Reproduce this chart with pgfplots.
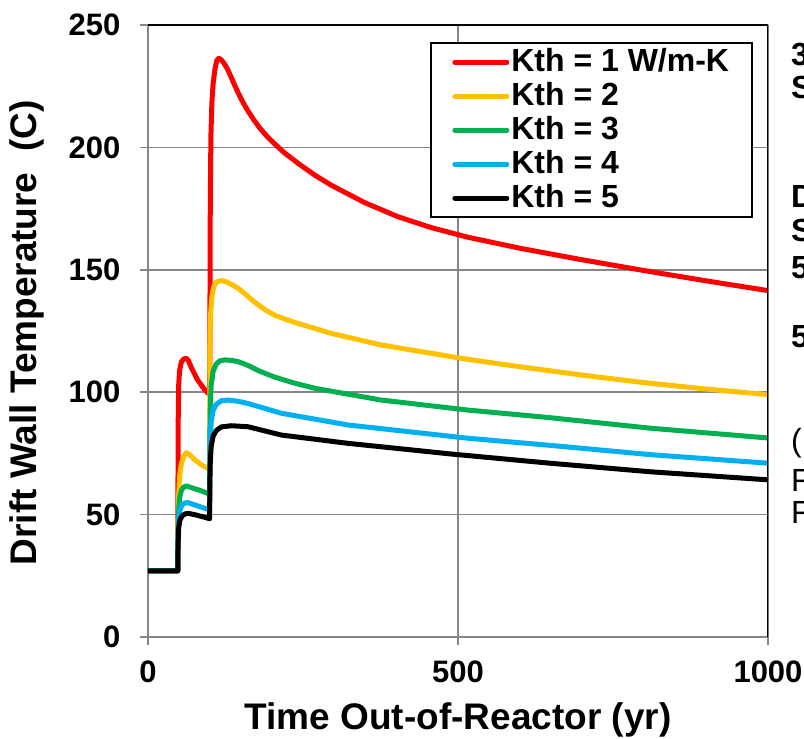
\documentclass[border=0pt]{standalone}
\usepackage{fontspec}
\setmainfont{Liberation Sans}
\usepackage{pgfplots}
\pgfplotsset{compat=1.18}

\definecolor{kred}{RGB}{255,0,0}
\definecolor{korange}{RGB}{255,192,0}
\definecolor{kgreen}{RGB}{0,176,80}
\definecolor{kblue}{RGB}{0,176,240}
\definecolor{gridgray}{RGB}{134,134,134}

\begin{document}
\begin{tikzpicture}
\useasboundingbox (-148pt,-102pt) rectangle (656pt,637pt);
\begin{axis}[
    at={(0pt,0pt)}, anchor=south west,
    scale only axis,
    width=620pt, height=612pt,
    xmin=0, xmax=1000, ymin=0, ymax=250,
    xtick={0,500,1000},
    ytick={0,50,100,150,200,250},
    axis x line*=bottom, axis y line*=left,
    axis line style={gridgray, line width=2.5pt},
    grid=major,
    major grid style={gridgray, line width=1.6pt},
    tick style={gridgray, line width=1.6pt},
    tick align=outside,
    major tick length=8pt,
    /pgf/number format/assume math mode=true,
    /pgf/number format/1000 sep={},
    ticklabel style={font=\bfseries\fontsize{31}{31}\selectfont},
    yticklabel style={xshift=-16pt},
    xticklabel style={yshift=-12pt},
    xlabel={Time Out-of-Reactor (yr)},
    ylabel={Drift Wall Temperature\ \ (C)},
    label style={font=\bfseries\fontsize{37}{37}\selectfont},
    xlabel style={at={(axis description cs:0.5,0)}, anchor=center, yshift=-83pt},
    ylabel style={at={(axis description cs:-0.195,0.497)}, anchor=center},
    legend style={
        at={(rel axis cs:0.976,0.972)}, anchor=north east,
        draw=black, line width=2pt,
        font=\bfseries\fontsize{32}{32}\selectfont,
        inner xsep=21pt, inner ysep=2pt,
        nodes={text height=24pt, text depth=6pt, inner sep=2pt},
        row sep=0pt,
    },
    legend cell align=left,
    legend image code/.code={
        \draw[#1, line width=5pt, line cap=round] (0pt,0pt) -- (52pt,0pt);
    },
    every axis plot/.append style={line width=5pt, line join=round},
]

\addplot[kred] coordinates {
(0,27) (48,27) (48.3,60) (48.8,90) (49.5,103) (51,109) (54,112.5)
(58,113.6) (62,113.8) (65,113) (70,110) (80,105) (90,101.5) (97,99.5)
(99.5,99.5) (100,140) (100.5,180) (101.5,205) (103,218) (105,226)
(108,232) (111,235.5) (114,236.4) (118,235.8) (122,234.6) (126,233)
(130,231) (135,228.2) (140,225.3) (146,222) (153,218.5) (161,215)
(170,211.5) (180,208) (192,204.5) (204,201.5) (220,197.8) (242,193.5)
(270,188.5) (296,184.5) (349,177.5) (403,171.7) (456,167.3) (516,163.3)
(600,158.8) (700,154.1) (800,149.7) (900,145.5) (1000,141.5)
};
\addlegendentry{Kth = 1 W/m-K}

\addplot[korange] coordinates {
(0,27) (48,27) (48.5,45) (49.5,58) (51,66) (54,71) (58,74) (62,75.3)
(67,74.5) (75,72.5) (85,70.5) (96,68.9) (99.5,68.5) (99.7,100) (100,120)
(101,132) (103,139) (106,143) (110,145) (118,145.6) (126,145.1) (135,144)
(145,142.5) (155,140.5) (165,138.3) (175,136.2) (190,133.5) (204,131.5)
(225,129.5) (242,128.1) (296,124) (376,119.3) (516,113.4) (600,110.4)
(700,107) (800,103.9) (900,101.3) (1000,99)
};
\addlegendentry{Kth = 2}

\addplot[kgreen] coordinates {
(0,27) (48,27) (48.5,42) (49.5,52) (51,57) (54,60) (58,61.3) (62,61.7)
(70,61) (85,59.8) (96,58.7) (99.5,58.3) (99.7,80) (100.5,95) (102,103)
(105,108.5) (110,111.5) (116,112.8) (124,113.2) (135,113) (145,112.5)
(155,111.6) (165,110.5) (180,108.6) (204,106.2) (235,103.8) (269,101.6)
(376,96.8) (516,92.7) (648,89.6) (810,85.3) (1000,81.3)
};
\addlegendentry{Kth = 3}

\addplot[kblue] coordinates {
(0,27) (48,27) (48.5,40) (49.5,48) (51,51.5) (55,54) (60,54.8) (64,54.9)
(75,54) (96,52.2) (99.5,51.8) (99.7,70) (100.5,82) (102,88) (105,92.5)
(110,95) (118,96.5) (129,96.8) (145,96.3) (161,95.4) (180,94)
(215,91.4) (323,86.6) (516,81.2) (648,78.3) (810,74.5) (1000,71)
};
\addlegendentry{Kth = 4}

\addplot[black] coordinates {
(0,27) (48,27) (48.5,38) (49.5,44.5) (51,47.5) (55,49.5) (60,50.3)
(65,50.5) (75,50) (90,49) (97,48.5) (99.5,48.3) (99.7,62) (100.5,72)
(102,78) (105,82) (110,84.3) (118,85.8) (134,86.3) (161,85.9) (185,84.4)
(215,82.5) (323,79.1) (487,74.8) (648,71) (810,67.5) (1000,64.2)
};
\addlegendentry{Kth = 5}

\draw[black, line width=3pt] (rel axis cs:0,1) -- (rel axis cs:1,1) -- (rel axis cs:1,0);
\end{axis}

% clipped text from the neighbouring box
\begin{scope}[font=\bfseries\fontsize{32}{32}\selectfont]
\node[anchor=base west, inner sep=0pt] at (643pt,571pt) {3};
\node[anchor=base west, inner sep=0pt] at (643pt,538pt) {S};
\node[anchor=base west, inner sep=0pt] at (643pt,429pt) {D};
\node[anchor=base west, inner sep=0pt] at (643pt,395pt) {S};
\node[anchor=base west, inner sep=0pt] at (643pt,358pt) {5};
\node[anchor=base west, inner sep=0pt] at (643pt,289pt) {5};
\end{scope}
\begin{scope}[font=\fontsize{32}{32}\selectfont]
\node[anchor=base west, inner sep=0pt] at (643pt,185pt) {(};
\node[anchor=base west, inner sep=0pt] at (643pt,145pt) {F};
\node[anchor=base west, inner sep=0pt] at (643pt,113pt) {F};
\end{scope}
\end{tikzpicture}
\end{document}
